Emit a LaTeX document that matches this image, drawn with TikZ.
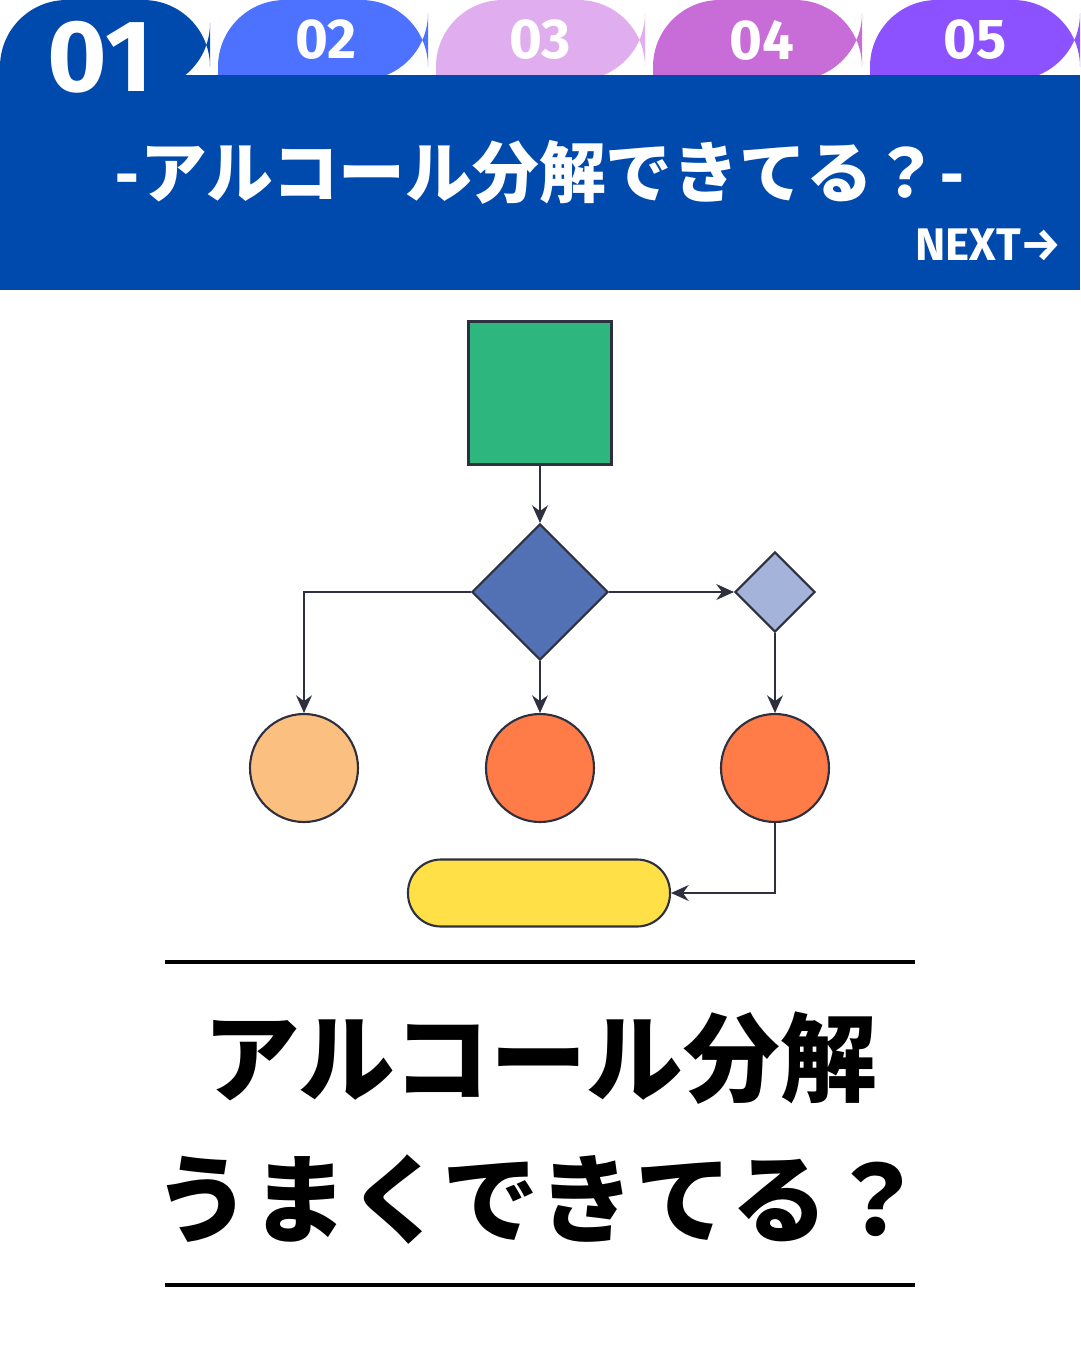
\documentclass[tikz,border=0pt]{standalone}
\usepackage{fontspec}
\setmainfont{Noto Sans CJK JP}
\newfontfamily\numfont{Fira Sans}
\usetikzlibrary{shapes.geometric, arrows.meta}
\definecolor{bandblue}{HTML}{014AAD}
\definecolor{tabtwo}{HTML}{4D72FF}
\definecolor{tabthree}{HTML}{E0AEEE}
\definecolor{tabfour}{HTML}{C86DD7}
\definecolor{tabfive}{HTML}{8C52FF}
\definecolor{linec}{HTML}{2E3040}
\tikzstyle{tab} = [rounded corners=38pt]
\tikzstyle{tabnum} = [text=white, font=\numfont\bfseries\fontsize{32}{32}\selectfont]
\tikzstyle{shapebox} = [draw=linec, line width=1.2pt]
\tikzstyle{blob} = [circle, shapebox, minimum size=108*0.02cm, inner sep=0pt]
\tikzstyle{arrow} = [draw=linec, line width=1.2pt, -{Stealth[length=10pt,width=9pt]}]

\begin{document}
\begin{tikzpicture}[x=0.02cm, y=-0.02cm]

        % Hintergrund und Kopf
        \useasboundingbox[fill=white] (0,0) rectangle (1080,1350);
        \fill[bandblue, tab] (0,90) -- (0,0) -- (210,0) -- (210,90) [sharp corners] -- cycle;
        \fill[tabtwo, tab] (218,80) -- (218,0) -- (428,0) -- (428,80) [sharp corners] -- cycle;
        \fill[tabthree, tab] (436,80) -- (436,0) -- (645,0) -- (645,80) [sharp corners] -- cycle;
        \fill[tabfour, tab] (653,80) -- (653,0) -- (862,0) -- (862,80) [sharp corners] -- cycle;
        \fill[tabfive, tab] (870,80) -- (870,0) -- (1080,0) -- (1080,80) [sharp corners] -- cycle;
        \fill[bandblue] (0,75) rectangle (1080,290);
        \node (n1) [tabnum, font=\numfont\bfseries\fontsize{58}{58}\selectfont] at (100,57) {01};
        \node (n2) [tabnum] at (326,40) {02};
        \node (n3) [tabnum] at (540,40) {03};
        \node (n4) [tabnum] at (762,40) {04};
        \node (n5) [tabnum] at (975,40) {05};
        \node (title) [text=white, font=\bfseries\fontsize{38}{38}\selectfont] at (540,172) {-アルコール分解できてる？-};
        \node (next) [text=white, anchor=east, font=\numfont\bfseries\fontsize{26}{26}\selectfont] at (1068,245) {NEXT→};

        % Flussdiagramm
        \node (start) [shapebox, fill={rgb,255:red,45;green,182;blue,125}, minimum size=143*0.02cm, inner sep=0pt] at (540,393) {};
        \node (dia) [diamond, shapebox, fill={rgb,255:red,82;green,113;blue,180}, minimum size=136*0.02cm, inner sep=0pt] at (540,592) {};
        \node (sdia) [diamond, shapebox, fill={rgb,255:red,163;green,179;blue,217}, minimum size=80*0.02cm, inner sep=0pt] at (775,592) {};
        \node (c1) [blob, fill={rgb,255:red,251;green,192;blue,127}] at (304,768) {};
        \node (c2) [blob, fill={rgb,255:red,255;green,123;blue,71}] at (540,768) {};
        \node (c3) [blob, fill={rgb,255:red,255;green,123;blue,71}] at (775,768) {};
        \node (bar) [shapebox, rounded corners=33*0.02cm, fill={rgb,255:red,255;green,224;blue,71}, minimum width=262*0.02cm, minimum height=67*0.02cm] at (539,893) {};

        \draw [arrow] (start) -- (dia);
        \draw [arrow] (dia.west) -| (c1.north);
        \draw [arrow] (dia) -- (c2);
        \draw [arrow] (dia.east) -- (sdia.west);
        \draw [arrow] (sdia.south) -- (c3.north);
        \draw [arrow] (c3.south) |- (bar.east);

        % Unterer Text
        \draw[line width=2.2pt] (165,962) -- (915,962);
        \draw[line width=2.2pt] (165,1285) -- (915,1285);
        \node (main1) [font=\bfseries\fontsize{55}{55}\selectfont] at (540,1058) {アルコール分解};
        \node (main2) [font=\bfseries\fontsize{55}{55}\selectfont] at (540,1200) {うまくできてる？};

    \end{tikzpicture}
\end{document}
